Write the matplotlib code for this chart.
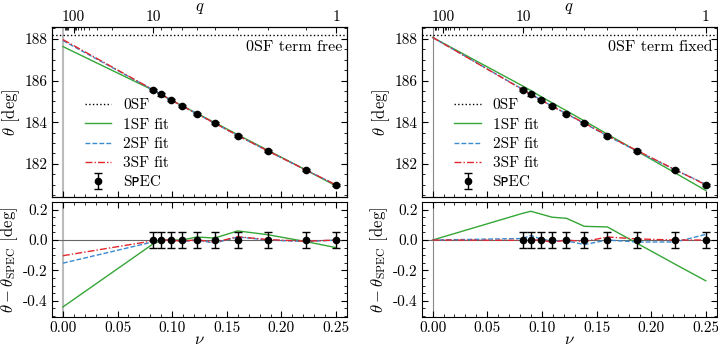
import numpy as np
import matplotlib
matplotlib.use("Agg")
import matplotlib.pyplot as plt
from matplotlib.ticker import MultipleLocator, FixedLocator, FormatStrFormatter

plt.rcParams['font.family'] = ['cmr10', 'DejaVu Sans']
plt.rcParams['mathtext.fontset'] = 'cm'
plt.rcParams['axes.formatter.use_mathtext'] = True
plt.rcParams['font.size'] = 11

# ---- data ----
nu = [0.0826, 0.0900, 0.0988, 0.1094, 0.1224, 0.1389, 0.1600, 0.1875, 0.2222, 0.2500]
theta_spec = [185.56, 185.33, 185.07, 184.78, 184.41, 183.97, 183.34, 182.62, 181.72, 180.99]
theta_err = [0.055] * 10
theta_0sf_line = 188.2
theta_0sf = 188.07

# residuals (fit - SpEC), first value at nu = 0 (relative to 0SF value)
free_1sf = [-0.44, -0.025, -0.005, 0.0, 0.0, 0.02, 0.013, 0.06, 0.035, -0.01, -0.05]
free_2sf = [-0.152, -0.012, 0.0, -0.003, -0.01, 0.0, -0.02, 0.02, 0.0, -0.01, 0.0]
free_3sf = [-0.103, -0.005, 0.0, 0.0, -0.008, 0.002, -0.015, 0.022, 0.003, -0.008, 0.0]

fixed_1sf = [0.0, 0.176, 0.189, 0.171, 0.15, 0.143, 0.09, 0.086, -0.023, -0.16, -0.268]
fixed_2sf = [0.0, 0.01, 0.03, 0.007, -0.005, -0.005, -0.03, 0.0, -0.013, -0.013, 0.037]
fixed_3sf = [0.0, -0.002, 0.0, 0.0, -0.015, 0.0, -0.01, 0.02, 0.007, 0.0, 0.0]

q_major = [100, 10, 1]
q_minor = [2, 3, 4, 5, 6, 7, 8, 9, 20, 30, 40, 50, 60, 70, 80, 90, 200, 300, 400, 500]

col_1 = '#35a637'
col_2 = '#3a8ad0'
col_3 = '#e0282e'

W, H = 718, 347
fig = plt.figure(figsize=(W / 100, H / 100), dpi=100)

def fr(x0, y0, x1, y1):
    return [x0 / W, 1 - y1 / H, (x1 - x0) / W, (y1 - y0) / H]

panels = [
    dict(x0=52, x1=347, fits=(free_1sf, free_2sf, free_3sf), text='0SF term free', vl=(1.5, '#bbbbbb')),
    dict(x0=421.7, x1=716.7, fits=(fixed_1sf, fixed_2sf, fixed_3sf), text='0SF term fixed', vl=(0.8, '#888888')),
]

def q2nu(q):
    q = np.asarray(q, dtype=float)
    return q / (1 + q) ** 2

for p in panels:
    axt = fig.add_axes(fr(p['x0'], 27, p['x1'], 197))
    axb = fig.add_axes(fr(p['x0'], 202, p['x1'], 317))
    xs = [0.0] + nu
    styles = [dict(color=col_1, ls='-', lw=1.0, label='1SF fit'),
              dict(color=col_2, ls=(0, (3.5, 1.5)), lw=1.0, label='2SF fit'),
              dict(color=col_3, ls=(0, (5, 1.5, 1, 1.5)), lw=1.0, label='3SF fit')]

    # top
    axt.axvline(0, color=p['vl'][1], lw=p['vl'][0], zorder=0)
    axt.axhline(theta_0sf_line, color='black', ls=':', lw=1.0, label='0SF')
    for res, st in zip(p['fits'], styles):
        ys = [theta_0sf + res[0]] + [t + r for t, r in zip(theta_spec, res[1:])]
        axt.plot(xs, ys, **st)
    axt.errorbar(nu, theta_spec, yerr=theta_err, fmt='o', color='black', ms=4.5,
                 capsize=3, elinewidth=1, capthick=1, label='S\u1D18EC', zorder=5)
    axt.set_xlim(-0.01, 0.26)
    axt.set_ylim(180.41, 188.57)
    axt.yaxis.set_major_locator(MultipleLocator(2))
    axt.yaxis.set_minor_locator(MultipleLocator(0.5))
    axt.yaxis.set_major_formatter(FormatStrFormatter('%d'))
    axt.xaxis.set_major_locator(MultipleLocator(0.05))
    axt.xaxis.set_minor_locator(MultipleLocator(0.01))
    axt.tick_params(which='both', direction='in', top=False, right=True, labelbottom=False, pad=3)
    axt.tick_params(which='major', length=4)
    axt.tick_params(which='minor', length=2)
    axt.set_ylabel(r'$\theta$ [deg]', labelpad=2, fontsize=12)
    axt.text(0.985, 0.88, p['text'], transform=axt.transAxes, ha='right', va='center', fontsize=11.5)
    handles, labels = axt.get_legend_handles_labels()
    order = ['0SF', '1SF fit', '2SF fit', '3SF fit', 'S\u1D18EC']
    hd = dict(zip(labels, handles))
    axt.legend([hd[k] for k in order], order, loc='lower left', bbox_to_anchor=(0.085, 0.0),
               frameon=False, handlelength=1.75, handletextpad=0.75, labelspacing=0.36,
               borderpad=0, fontsize=11)

    # top q axis
    axq = axt.twiny()
    axq.set_xlim(axt.get_xlim())
    axq.xaxis.set_major_locator(FixedLocator(q2nu(q_major)))
    axq.set_xticklabels([str(q) for q in q_major])
    axq.xaxis.set_minor_locator(FixedLocator(q2nu(q_minor)))
    axq.tick_params(which='both', direction='in', pad=2)
    axq.tick_params(which='major', length=4)
    axq.tick_params(which='minor', length=2)
    axq.set_xlabel(r'$q$', labelpad=0, fontsize=12)

    # bottom
    axb.axvline(0, color=p['vl'][1], lw=p['vl'][0], zorder=0)
    axb.axhline(0, color='#666666', lw=0.8, zorder=0)
    for res, st in zip(p['fits'], styles):
        axb.plot(xs, res, **st)
    axb.errorbar(nu, [0.0] * len(nu), yerr=theta_err, fmt='o', color='black', ms=4.5,
                 capsize=3, elinewidth=1, capthick=1, zorder=5)
    axb.set_xlim(-0.01, 0.26)
    axb.set_ylim(-0.506, 0.25)
    axb.yaxis.set_major_locator(MultipleLocator(0.2))
    axb.yaxis.set_minor_locator(MultipleLocator(0.05))
    axb.yaxis.set_major_formatter(FormatStrFormatter('%.1f'))
    axb.xaxis.set_major_locator(MultipleLocator(0.05))
    axb.xaxis.set_minor_locator(MultipleLocator(0.01))
    axb.xaxis.set_major_formatter(FormatStrFormatter('%.2f'))
    axb.tick_params(which='both', direction='in', top=True, right=True, pad=3)
    axb.tick_params(which='major', length=4)
    axb.tick_params(which='minor', length=2)
    axb.set_xlabel(r'$\nu$', labelpad=-2.5, fontsize=12)
    axb.set_ylabel(r'$\theta-\theta_{\rm SPEC}$ [deg]', labelpad=2, fontsize=12)

fig.savefig('out.png', dpi=100)
